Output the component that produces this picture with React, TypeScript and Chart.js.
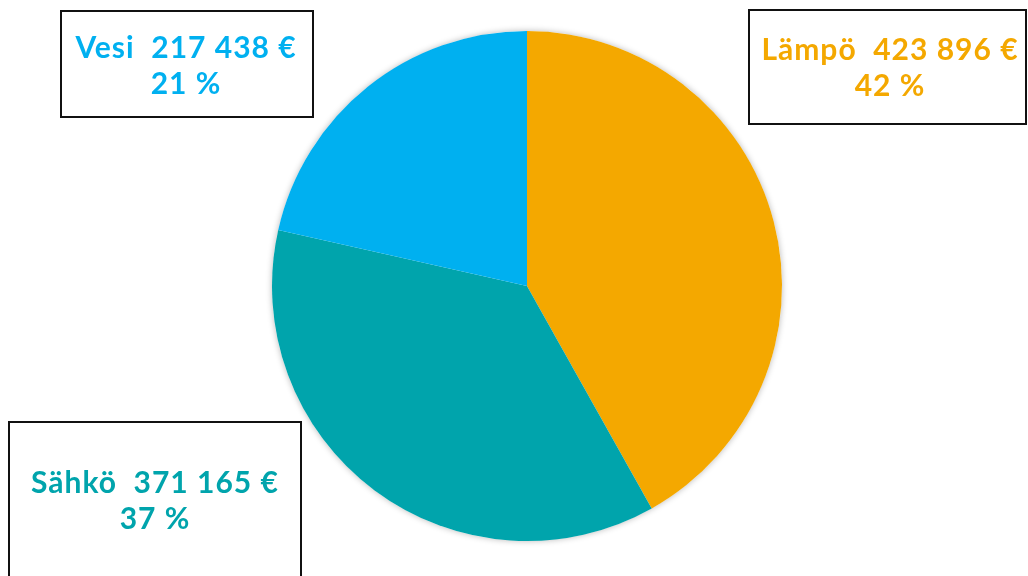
import React, { useEffect, useRef } from "react";
import { Chart, registerables } from "chart.js";

Chart.register(...registerables);

const categories = ["Lämpö", "Sähkö", "Vesi"];
const values = [423896, 371165, 217438];
const valueLabels = ["423 896 €", "371 165 €", "217 438 €"];
const percentLabels = ["42 %", "37 %", "21 %"];
const colors = ["#F4A800", "#00A4AC", "#00B0F0"];

// label boxes: [left, top, right, bottom, textCenterX, line1Y, line2Y]
const boxes = [
  [749, 10, 1026, 124, 890, 50, 86],
  [9, 422, 301, 580, 155, 483, 519],
  [61, 11, 313, 117, 186, 48, 84],
];

const shadowPlugin = {
  id: "pieShadow",
  beforeDatasetsDraw(chart: any) {
    const meta = chart.getDatasetMeta(0);
    const arc = meta.data[0];
    if (!arc) return;
    const { x, y, outerRadius } = arc.getProps(["x", "y", "outerRadius"], true);
    const ctx = chart.ctx;
    ctx.save();
    ctx.shadowColor = "rgba(0,0,0,0.28)";
    ctx.shadowBlur = 6;
    ctx.beginPath();
    ctx.arc(x, y, outerRadius, 0, Math.PI * 2);
    ctx.fillStyle = "#ffffff";
    ctx.fill();
    ctx.restore();
  },
};

const labelPlugin = {
  id: "boxLabels",
  afterDraw(chart: any) {
    const ctx = chart.ctx;
    ctx.save();
    boxes.forEach((b, i) => {
      const [l, t, r, btm, cx, y1, y2] = b;
      ctx.strokeStyle = "#111111";
      ctx.lineWidth = 2;
      ctx.strokeRect(l, t, r - l, btm - t);
      ctx.fillStyle = colors[i];
      ctx.font = "bold 30px Lato";
      (ctx as any).letterSpacing = "1px";
      ctx.textAlign = "center";
      ctx.textBaseline = "middle";
      ctx.fillText(categories[i] + "  " + valueLabels[i], cx, y1);
      ctx.fillText(percentLabels[i], cx, y2);
    });
    ctx.restore();
  },
};

export default function App() {
  const ref = useRef<HTMLCanvasElement | null>(null);
  useEffect(() => {
    document.body.style.margin = "0";
    const chart = new Chart(ref.current as HTMLCanvasElement, {
      type: "pie",
      data: {
        labels: categories,
        datasets: [
          {
            data: values,
            backgroundColor: colors,
            borderWidth: 0,
          },
        ],
      },
      options: {
        animation: false,
        responsive: false,
        layout: { padding: { left: 272, right: 246, top: 31, bottom: 35 } },
        plugins: { legend: { display: false }, tooltip: { enabled: false } },
      },
      plugins: [shadowPlugin, labelPlugin],
    });
    return () => chart.destroy();
  }, []);
  return (
    <div style={{ position: "absolute", left: 0, top: 0, width: 1028, height: 576, background: "#fff" }}>
      <canvas ref={ref} width={1028} height={576} />
    </div>
  );
}
